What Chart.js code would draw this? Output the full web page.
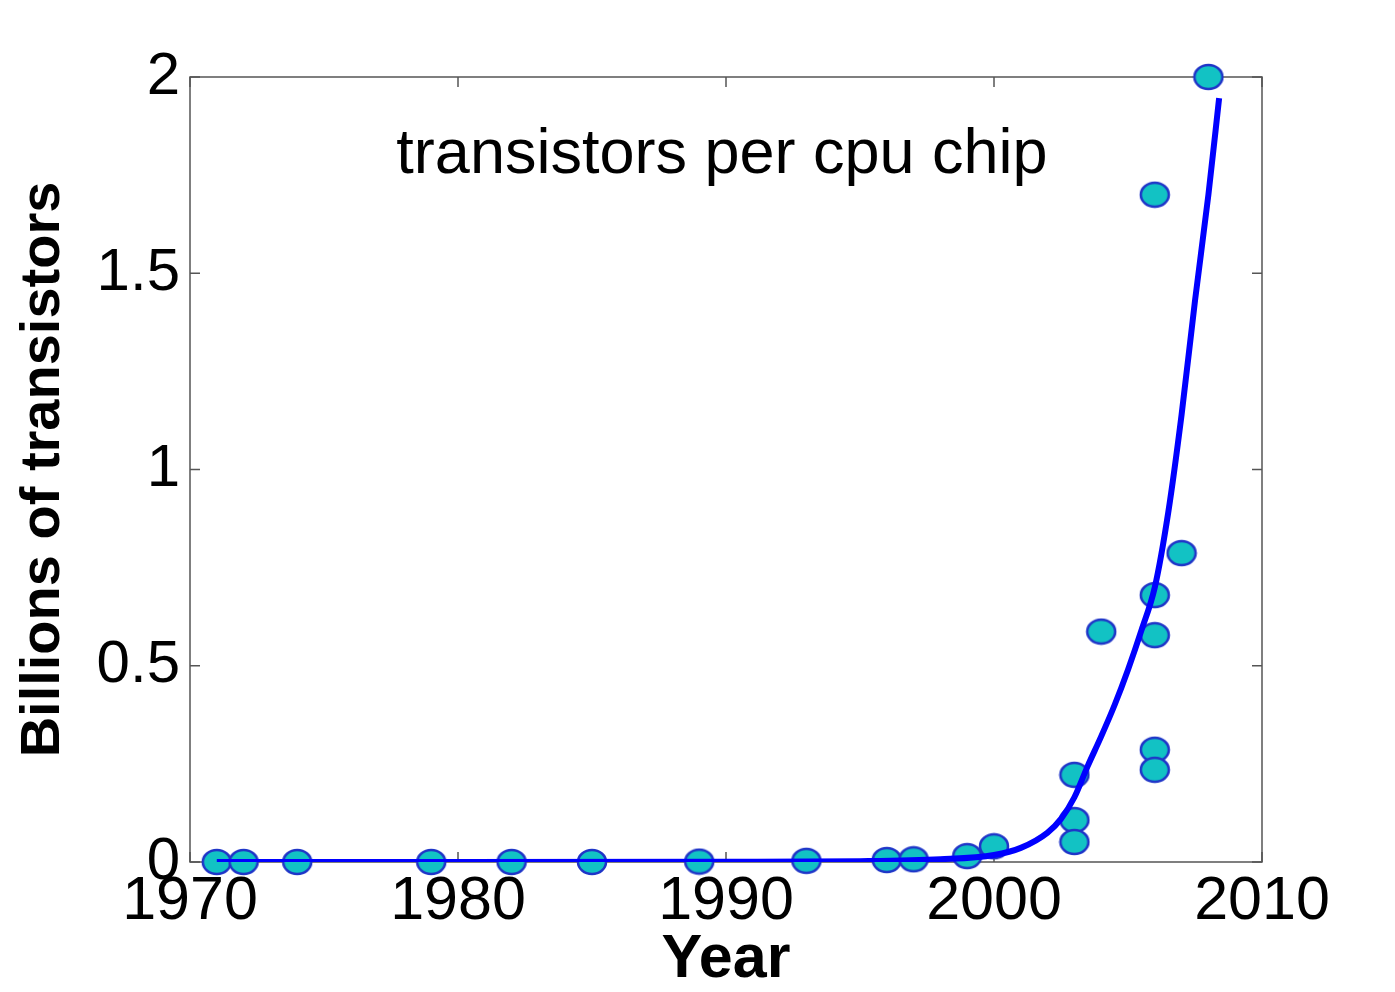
<!DOCTYPE html>
<html>
<head>
<meta charset="utf-8">
<script src="https://cdn.jsdelivr.net/npm/chart.js@4.4.1/dist/chart.umd.min.js"></script>
<style>
  html, body { margin: 0; padding: 0; background: #fff; }
  canvas { display: block; }
</style>
</head>
<body>
<canvas id="transistors" width="1395" height="992"></canvas>
<script>
// =================== data =======================
// measured chips (year, billions of transistors)
const chipYears = [1971, 1972, 1974, 1979, 1982, 1985, 1989, 1993, 1996, 1997, 1999, 2000,
                   2003, 2003, 2003, 2004, 2006, 2006, 2006, 2006, 2006, 2007, 2008];
const chipCounts = [0, 0, 0, 0, 0, 0, 0.001, 0.003, 0.005, 0.007, 0.015, 0.04,
                    0.222, 0.107, 0.051, 0.587, 1.70, 0.68, 0.578, 0.286, 0.235, 0.787, 2.0];

// fitted curve
const fitYears = [1971, 1980, 1990, 1995, 1998, 2000, 2001, 2002, 2002.5, 2003, 2003.5,
                  2004, 2004.5, 2005, 2005.5, 2006, 2006.5, 2007, 2007.5, 2008, 2008.4];
const fitCounts = [0, 0, 0.0005, 0.002, 0.007, 0.018, 0.036, 0.075, 0.11, 0.165, 0.245,
                   0.32, 0.40, 0.49, 0.59, 0.70, 0.89, 1.14, 1.43, 1.70, 1.946];

const xTickValues = [1970, 1980, 1990, 2000, 2010];
const xTickLabels = ['1970', '1980', '1990', '2000', '2010'];
const yTickValues = [0, 0.5, 1, 1.5, 2];
const yTickLabels = ['0', '0.5', '1', '1.5', '2'];

const chartTitle = 'transistors per cpu chip';
const xTitle = 'Year';
const yTitle = 'Billions of transistors';
// =================== END DATA ===================

const FONT = '"Liberation Sans", Arial, sans-serif';

// elliptic marker like the matlab 'o' with a fill
function makeMarker() {
    const c = document.createElement('canvas');
    c.width = 32;
    c.height = 28;
    const g = c.getContext('2d');
    g.beginPath();
    g.ellipse(16, 14, 14, 12, 0, 0, Math.PI * 2);
    g.fillStyle = '#12c2c4';
    g.fill();
    g.lineWidth = 2.5;
    g.strokeStyle = '#1f35c8';
    g.stroke();
    return c;
}

// box around the axes, ticks pointing inward, title inside
const matlabBox = {
    id: 'matlabBox',
    beforeDatasetsDraw(chart) {
        const {ctx, chartArea: a, scales} = chart;
        const len = 10;
        ctx.save();
        ctx.strokeStyle = '#555';
        ctx.lineWidth = 1.5;
        ctx.strokeRect(a.left, a.top, a.right - a.left, a.bottom - a.top);
        ctx.beginPath();
        xTickValues.forEach(v => {
            const px = scales.x.getPixelForValue(v);
            ctx.moveTo(px, a.bottom); ctx.lineTo(px, a.bottom - len);
            ctx.moveTo(px, a.top); ctx.lineTo(px, a.top + len);
        });
        yTickValues.forEach(v => {
            const py = scales.y.getPixelForValue(v);
            ctx.moveTo(a.left, py); ctx.lineTo(a.left + len, py);
            ctx.moveTo(a.right, py); ctx.lineTo(a.right - len, py);
        });
        ctx.stroke();

        ctx.fillStyle = '#000';
        ctx.font = '63px ' + FONT;
        ctx.textAlign = 'center';
        ctx.textBaseline = 'alphabetic';
        ctx.fillText(chartTitle, (a.left + a.right) / 2 - 4, a.top + 96);
        ctx.restore();
    }
};

const ctx = document.getElementById('transistors');
const myChart = new Chart(ctx, {
    type: 'scatter',
    data: {
        datasets: [
            {
                label: 'fit',
                type: 'line',
                data: fitYears.map((x, i) => ({x: x, y: fitCounts[i]})),
                borderColor: '#0000ff',
                borderWidth: 6,
                pointRadius: 0,
                fill: false,
                cubicInterpolationMode: 'monotone',
                order: 1
            },
            {
                label: 'chips',
                data: chipYears.map((x, i) => ({x: x, y: chipCounts[i]})),
                pointStyle: makeMarker(),
                pointRadius: 14,
                clip: false,
                order: 2
            }
        ]
    },
    options: {
        responsive: false,
        animation: false,
        layout: {
            padding: {top: 77, right: 133, bottom: 0, left: 0}
        },
        plugins: {
            legend: {display: false},
            tooltip: {enabled: false}
        },
        scales: {
            x: {
                type: 'linear',
                min: 1970,
                max: 2010,
                afterBuildTicks: s => { s.ticks = xTickValues.map(v => ({value: v})); },
                afterFit: s => { s.height = 130; },
                grid: {display: false, drawTicks: false},
                border: {display: false},
                ticks: {
                    autoSkip: false,
                    maxRotation: 0,
                    padding: 4,
                    color: '#000',
                    font: {family: FONT, size: 61},
                    callback: v => xTickLabels[xTickValues.indexOf(v)]
                },
                title: {
                    display: true,
                    text: xTitle,
                    color: '#000',
                    padding: {top: 0, bottom: -5},
                    font: {family: FONT, size: 61, weight: 'bold'}
                }
            },
            y: {
                min: 0,
                max: 2,
                afterBuildTicks: s => { s.ticks = yTickValues.map(v => ({value: v})); },
                afterFit: s => { s.width = 190; },
                grid: {display: false, drawTicks: false},
                border: {display: false},
                ticks: {
                    padding: 10,
                    color: '#000',
                    font: {family: FONT, size: 60},
                    callback: v => yTickLabels[yTickValues.indexOf(v)]
                },
                title: {
                    display: true,
                    text: yTitle,
                    color: '#000',
                    padding: {top: 10, bottom: 0},
                    font: {family: FONT, size: 56, weight: 'bold'}
                }
            }
        }
    },
    plugins: [matlabBox]
});
</script>
</body>
</html>
